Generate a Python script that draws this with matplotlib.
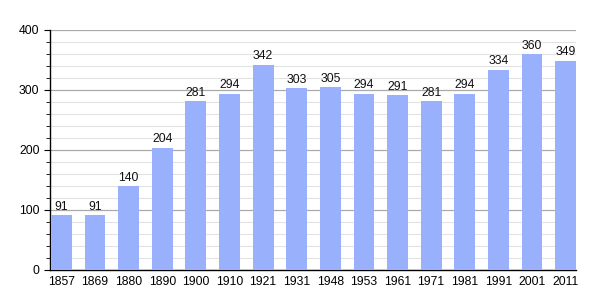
import matplotlib
matplotlib.use("Agg")
import matplotlib.pyplot as plt
from matplotlib.ticker import MultipleLocator

years = ["1857", "1869", "1880", "1890", "1900", "1910", "1921", "1931",
         "1948", "1953", "1961", "1971", "1981", "1991", "2001", "2011"]
population = [91, 91, 140, 204, 281, 294, 342, 303, 305, 294, 291, 281, 294, 334, 360, 349]

plt.rcParams['font.family'] = ['Liberation Sans', 'DejaVu Sans']

fig = plt.figure(figsize=(6.05, 3.0), dpi=100)
ax = fig.add_axes([50 / 605, 30 / 300, 526 / 605, 240 / 300])

x = list(range(len(years)))
bars = ax.bar(x, population, width=0.62, color='#99b1fd', zorder=3)
for xi, v in zip(x, population):
    ax.text(xi, v + 4, str(v), ha='center', va='bottom', fontsize=8.8, color='#111111')

ax.set_xlim(-0.34, len(years) - 1 + 0.31)
ax.set_ylim(0, 400)
ax.set_xticks(x)
ax.set_xticklabels(years, fontsize=8.8)
ax.yaxis.set_major_locator(MultipleLocator(100))
ax.yaxis.set_minor_locator(MultipleLocator(20))
ax.tick_params(axis='y', which='major', length=4, labelsize=8.8, direction='out')
ax.tick_params(axis='y', which='minor', length=3, direction='out')
ax.tick_params(axis='x', length=0, pad=4)

ax.grid(axis='y', which='major', color='#aaaaaa', linewidth=0.9, zorder=0)
ax.grid(axis='y', which='minor', color='#e2e2e2', linewidth=0.8, zorder=0)
ax.set_axisbelow(True)

for s in ['top', 'right']:
    ax.spines[s].set_visible(False)
ax.spines['left'].set_linewidth(1)
ax.spines['bottom'].set_linewidth(1)

fig.savefig("out.png", dpi=100)
